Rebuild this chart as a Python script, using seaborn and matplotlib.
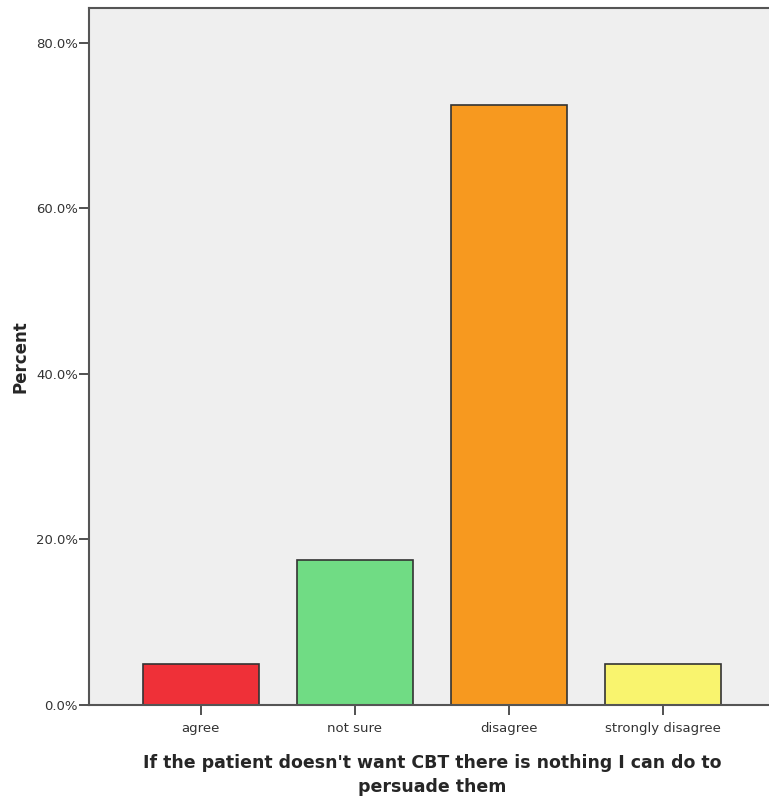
import matplotlib
matplotlib.use("Agg")
import matplotlib.pyplot as plt
import seaborn as sns
import pandas as pd
from matplotlib.ticker import PercentFormatter

categories = ["agree", "not sure", "disagree", "strongly disagree"]
percent = [5.0, 17.5, 72.5, 5.0]
colors = ["#EF3038", "#70DC84", "#F7991F", "#F9F46E"]
y_ticks = [0, 20, 40, 60, 80]

df = pd.DataFrame({"answer": categories, "percent": percent})

sns.set_theme(style="white")
plt.rcParams["font.family"] = ["DejaVu Sans"]

fig = plt.figure(figsize=(7.69, 8.02), dpi=100)
ax = fig.add_axes([0.1157, 0.121, 0.892, 0.869])

sns.barplot(data=df, x="answer", y="percent", hue="answer", order=categories,
            palette=colors, legend=False, width=0.753,
            edgecolor="#333333", linewidth=1.2, saturation=1, ax=ax)

ax.set_facecolor("#EFEFEF")
ax.set_xlim(-0.727, 3.727)
ax.set_ylim(0, 84.2)
ax.set_yticks(y_ticks)
ax.yaxis.set_major_formatter(PercentFormatter(decimals=1))

for side in ["left", "top", "bottom"]:
    ax.spines[side].set_color("#555555")
    ax.spines[side].set_linewidth(1.5)
ax.spines["right"].set_visible(False)

ax.tick_params(axis="y", left=True, direction="out", length=7, width=1.2,
               color="#333333", labelsize=9.5, labelcolor="#333333", pad=1)
ax.tick_params(axis="x", bottom=True, direction="out", length=7, width=1.2,
               color="#333333", labelsize=9.5, labelcolor="#333333", pad=5)

ax.set_ylabel("Percent", fontsize=12, fontweight="bold")
ax.yaxis.set_label_coords(-0.087, 0.5)
ax.set_xlabel("If the patient doesn't want CBT there is nothing I can do to\npersuade them",
              fontsize=12.5, fontweight="bold", labelpad=14, linespacing=1.4)

fig.savefig("out.png", dpi=100)
